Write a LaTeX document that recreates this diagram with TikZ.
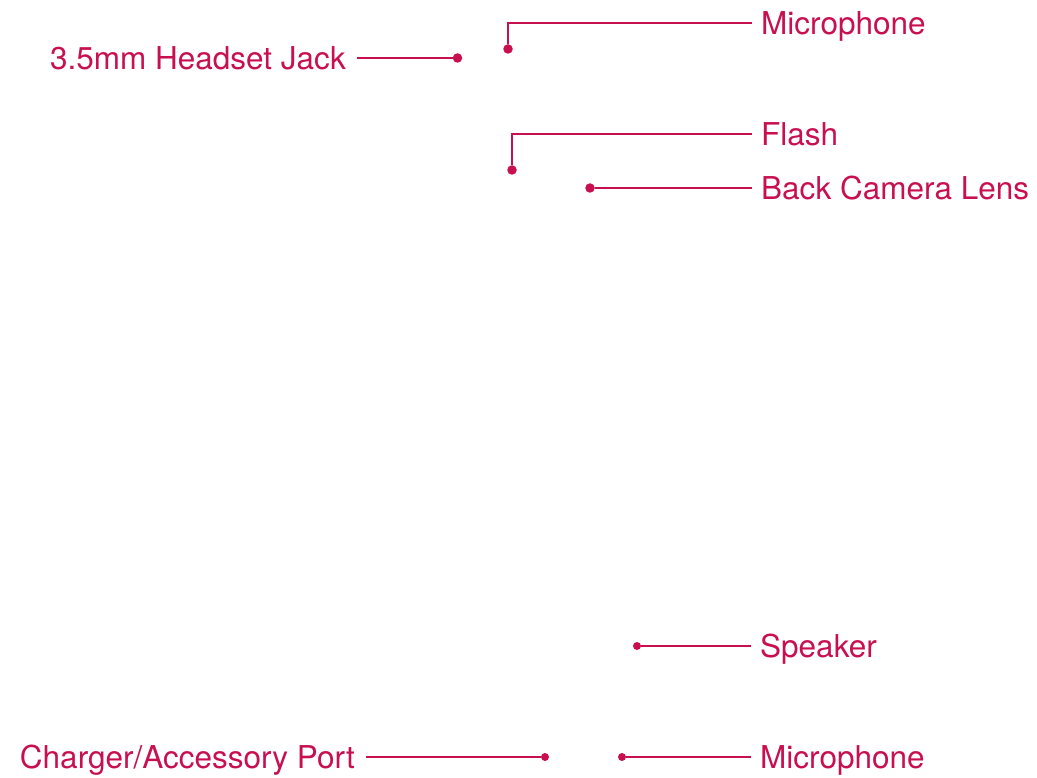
\documentclass[tikz,border=0pt]{standalone}
\usepackage{fontspec}
\setmainfont{TeX Gyre Heros}
\usepackage{tikz}
\definecolor{lgpink}{RGB}{200,16,80}

\begin{document}
\begin{tikzpicture}[x=1pt,y=-1pt,
    font=\fontsize{31.5}{38}\selectfont,
    lbl/.style={text=lgpink, inner xsep=9pt, inner ysep=0pt, text height=22.5pt, text depth=0pt},
    pin/.style={circle, fill=lgpink, inner sep=0pt, minimum size=9.5pt},
    lead/.style={draw=lgpink, line width=2.6pt}]
     \useasboundingbox (0,0) rectangle (1037,778);
     % top side
     \node[pin] (MT) at (508,49) {};
     \node[lbl, anchor=west] (MTL) at (752,23) {Microphone};
     \node[pin] (HJ) at (457.5,58) {};
     \node[lbl, anchor=east, inner xsep=11pt] (HJL) at (357,58) {3.5mm Headset Jack};
     \node[pin] (FL) at (512,170) {};
     \node[lbl, anchor=west] (FLL) at (752,134) {Flash};
     \node[pin] (BC) at (590,188) {};
     \node[lbl, anchor=west] (BCL) at (752,188) {Back Camera Lens};
     % bottom side
     \node[pin, minimum size=8pt] (SP) at (637,646) {};
     \node[lbl, anchor=west] (SPL) at (751,646) {Speaker};
     \node[pin, minimum size=8pt] (CP) at (545,757) {};
     \node[lbl, anchor=east, inner xsep=11pt] (CPL) at (366,757) {Charger/Accessory Port};
     \node[pin, minimum size=8pt] (MB) at (622,757) {};
     \node[lbl, anchor=west] (MBL) at (751,757) {Microphone};
     \draw [lead] (MT) |- (MTL);
     \draw [lead] (HJL) -- (HJ);
     \draw [lead] (FL) |- (FLL);
     \draw [lead] (BC) -- (BCL);
     \draw [lead] (SP) -- (SPL);
     \draw [lead] (CPL) -- (CP);
     \draw [lead] (MB) -- (MBL);
\end{tikzpicture}
\end{document}
